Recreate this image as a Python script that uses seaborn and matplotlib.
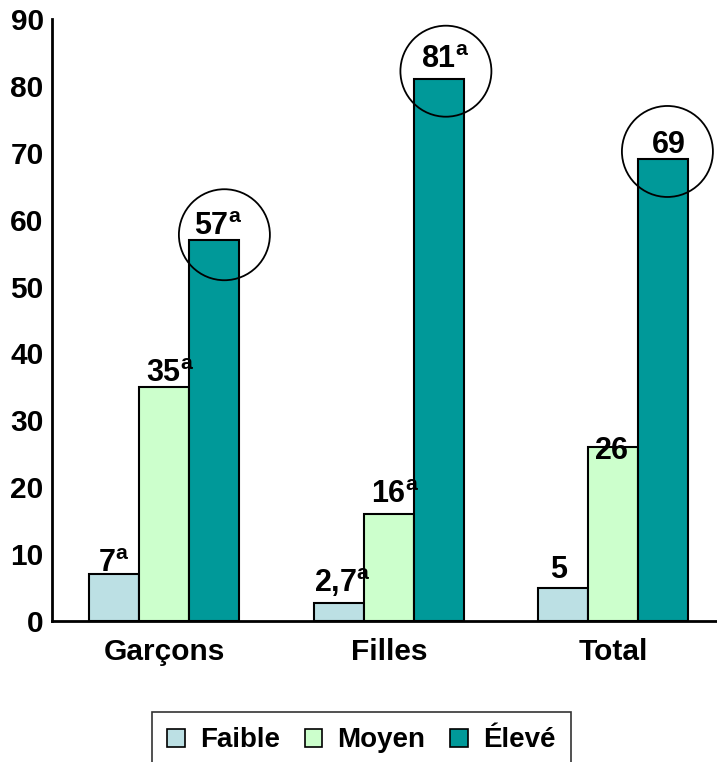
import matplotlib
matplotlib.use("Agg")
import matplotlib.pyplot as plt
from matplotlib.patches import Ellipse, Patch
import seaborn as sns
import pandas as pd

# ---- data ----
groups = ["Garçons", "Filles", "Total"]
levels = ["Faible", "Moyen", "Élevé"]
faible = [7, 2.7, 5]
moyen = [35, 16, 26]
eleve = [57, 81, 69]
faible_lbl = ["7", "2,7", "5"]
moyen_lbl = ["35", "16", "26"]
eleve_lbl = ["57", "81", "69"]
faible_sup = ["a", "a", ""]
moyen_sup = ["a", "a", ""]
eleve_sup = ["a", "a", ""]
circled = ["Élevé"]
y_ticks = [0, 10, 20, 30, 40, 50, 60, 70, 80, 90]

colors = ["#BCE0E4", "#CCFFCC", "#009999"]

sns.set_theme(style="white")
plt.rcParams["font.family"] = ["Liberation Sans", "DejaVu Sans"]
plt.rcParams["font.weight"] = "bold"
plt.rcParams["text.color"] = "black"
plt.rcParams["mathtext.fontset"] = "custom"
plt.rcParams["mathtext.rm"] = "Liberation Sans:bold"
plt.rcParams["mathtext.it"] = "Liberation Sans:bold"
plt.rcParams["mathtext.bf"] = "Liberation Sans:bold"
plt.rcParams["mathtext.sf"] = "Liberation Sans:bold"

rows = []
for lev, vals in zip(levels, [faible, moyen, eleve]):
    for g, v in zip(groups, vals):
        rows.append({"groupe": g, "niveau": lev, "valeur": v})
df = pd.DataFrame(rows)

fig = plt.figure(figsize=(7.17, 7.62), dpi=100)
ax = fig.add_axes([52 / 717, 141 / 762, 665 / 717, 602 / 762])

sns.barplot(data=df, x="groupe", y="valeur", hue="niveau", order=groups,
            hue_order=levels, palette=colors, width=0.67, edgecolor="black",
            linewidth=1.5, ax=ax, legend=False, errorbar=None, saturation=1)

ax.set_xlim(-0.5, 2.462)
ax.set_ylim(0, 90)
ax.set_yticks(y_ticks)
ax.set_xlabel("")
ax.set_ylabel("")
for s in ["top", "right"]:
    ax.spines[s].set_visible(False)
for s in ["left", "bottom"]:
    ax.spines[s].set_color("black")
    ax.spines[s].set_linewidth(2)
ax.tick_params(axis="both", length=0, labelsize=21.5, colors="black")
ax.tick_params(axis="y", pad=6)
ax.tick_params(axis="x", pad=12)
for t in ax.get_xticklabels() + ax.get_yticklabels():
    t.set_fontweight("bold")

# label offsets in pixels (dx, dy) per level, per group
offsets = {
    "Faible": [(0, 2), (4, 11), (-4, 10)],
    "Moyen": [(6, 5), (6, 11), (-2, -12)],
    "Élevé": [(4, 5), (6, 11), (5, 6)],
}
circle_dx = [10, 7, 4]
circle_dy = [5, 8, 8]
lbls = {"Faible": (faible, faible_lbl, faible_sup),
        "Moyen": (moyen, moyen_lbl, moyen_sup),
        "Élevé": (eleve, eleve_lbl, eleve_sup)}

px2pt = 72 / 100
x_scale = 665 / (2.462 + 0.5)   # px per data unit in x
y_scale = 602 / 90              # px per data unit in y

for cont, lev in zip(ax.containers, levels):
    vals, texts, sups = lbls[lev]
    for i, bar in enumerate(cont.patches):
        xc = bar.get_x() + bar.get_width() / 2
        v = vals[i]
        t = texts[i].replace(",", "{,}")
        if sups[i]:
            s = r"$\mathrm{" + t + r"}^{\mathrm{" + sups[i] + r"}}$"
        else:
            s = r"$\mathrm{" + t + r"}$"
        dx, dy = offsets[lev][i]
        ax.annotate(s, xy=(xc, v), xytext=(dx * px2pt, dy * px2pt),
                    textcoords="offset points", ha="center", va="baseline",
                    fontsize=22, color="black")
        if lev in circled:
            e = Ellipse((xc + circle_dx[i] / x_scale, v + circle_dy[i] / y_scale),
                        width=91 / x_scale, height=91 / y_scale,
                        facecolor="none", edgecolor="black", linewidth=1.3,
                        zorder=5, clip_on=False)
            ax.add_patch(e)

handles = [Patch(facecolor=c, edgecolor="black", linewidth=1.2) for c in colors]
leg = fig.legend(handles, levels, loc="upper center", ncol=3,
                 bbox_to_anchor=(361.5 / 717, 1 - 712 / 762),
                 frameon=True, fancybox=False, fontsize=20,
                 handlelength=0.62, handleheight=0.62, handletextpad=0.55,
                 columnspacing=0.9, borderpad=0.55, borderaxespad=0)
leg.get_frame().set_edgecolor("black")
leg.get_frame().set_linewidth(1.2)
for t in leg.get_texts():
    t.set_fontweight("bold")
    t.set_color("black")

fig.savefig("out.png", dpi=100)
